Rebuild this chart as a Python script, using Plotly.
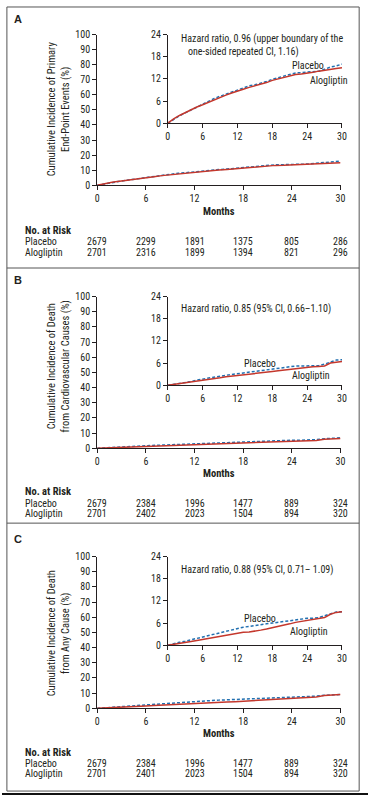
import plotly.graph_objects as go

W, H = 373, 801

months = list(range(0, 31))

a_placebo = [0, 1.1, 2.0, 2.8, 3.6, 4.4, 5.1, 6.1, 6.7, 7.3, 7.9, 8.5, 9.0, 9.5, 10.1, 10.4,
             10.8, 11.3, 11.9, 12.3, 12.6, 13.2, 13.6, 13.7, 13.8, 13.9, 14.1, 14.6, 15.2, 15.5, 16.0]
a_alogliptin = [0, 1.2, 2.1, 2.9, 3.7, 4.4, 5.0, 5.7, 6.4, 7.0, 7.6, 8.2, 8.8, 9.2, 9.7, 10.1,
                10.5, 11.0, 11.6, 12.0, 12.3, 12.8, 13.2, 13.3, 13.5, 13.8, 14.1, 14.4, 14.7, 14.8, 15.0]

b_placebo = [0, 0.2, 0.4, 0.7, 1.0, 1.4, 1.7, 1.9, 2.2, 2.5, 2.7, 2.9, 3.1, 3.4, 3.7, 3.9,
             4.1, 4.2, 4.4, 4.6, 4.8, 5.1, 5.2, 5.2, 5.3, 5.3, 5.3, 5.7, 6.3, 6.8, 6.9]
b_alogliptin = [0, 0.2, 0.4, 0.6, 0.9, 1.2, 1.4, 1.6, 1.8, 2.0, 2.3, 2.5, 2.7, 2.8, 3.0, 3.1,
                3.3, 3.5, 3.7, 3.9, 4.1, 4.4, 4.6, 4.7, 4.9, 5.0, 5.1, 5.2, 6.0, 6.3, 6.4]

c_placebo = [0, 0.5, 0.8, 1.1, 1.5, 1.9, 2.3, 2.6, 2.9, 3.3, 3.7, 4.2, 4.6, 4.9, 5.1, 5.4,
             5.6, 5.8, 6.0, 6.2, 6.4, 6.7, 6.9, 7.2, 7.3, 7.3, 7.5, 8.0, 8.6, 9.0, 9.1]
c_alogliptin = [0, 0.2, 0.4, 0.7, 1.0, 1.3, 1.6, 1.9, 2.1, 2.4, 2.7, 3.0, 3.3, 3.5, 3.6, 3.8,
                4.1, 4.4, 4.7, 5.1, 5.4, 5.8, 6.2, 6.5, 6.8, 7.0, 7.3, 7.5, 8.4, 8.9, 9.1]

risk_months = [0, 6, 12, 18, 24, 30]
a_risk_placebo = [2679, 2299, 1891, 1375, 805, 286]
a_risk_alogliptin = [2701, 2316, 1899, 1394, 821, 296]
b_risk_placebo = [2679, 2384, 1996, 1477, 889, 324]
b_risk_alogliptin = [2701, 2402, 2023, 1504, 894, 320]
c_risk_placebo = [2679, 2384, 1996, 1477, 889, 324]
c_risk_alogliptin = [2701, 2401, 2023, 1504, 894, 320]

panel_letters = ["A", "B", "C"]
y_titles = ["Cumulative Incidence of Primary<br>End-Point Events (%)",
            "Cumulative Incidence of Death<br>from Cardiovascular Causes (%)",
            "Cumulative Incidence of Death<br>from Any Cause (%)"]
hr_texts = ["Hazard ratio, 0.96 (upper boundary of the<br>   one-sided repeated CI, 1.16)",
            "Hazard ratio, 0.85 (95% CI, 0.66\u20131.10)",
            "Hazard ratio, 0.88 (95% CI, 0.71\u2013 1.09)"]
group_names = ["Placebo", "Alogliptin"]
x_title = "Months"
risk_title = "No. at Risk"
main_yticks = list(range(0, 101, 10))
inset_yticks = [0, 6, 12, 18, 24]
xticks = [0, 6, 12, 18, 24, 30]

BLUE = "#2270b0"
RED = "#c4372c"
INK = "#231f20"
FONT = "Liberation Sans Narrow, Arial Narrow, Roboto Condensed, Liberation Sans, sans-serif"


def px_x(p):
    return p / W


def px_y(p):
    return 1 - p / H


# panel geometry (pixels)
panels = [
    dict(main_top=29, main_bot=182, inset_top=29, inset_bot=119, letter_y=13,
         ytitle_y=104, months_y=209, risk_y=228, row1_y=239, row2_y=250,
         hr=(180, 40), plc=(293, 60), alo=(312, 76)),
    dict(main_top=295, main_bot=449, inset_top=295, inset_bot=385, letter_y=278,
         ytitle_y=366, months_y=475, risk_y=493, row1_y=505, row2_y=515,
         hr=(180, 308), plc=(245, 363), alo=(294, 375)),
    dict(main_top=559, main_bot=713, inset_top=559, inset_bot=649, letter_y=541,
         ytitle_y=637, months_y=739, risk_y=758, row1_y=769, row2_y=779,
         hr=(180, 573), plc=(245, 622), alo=(291, 635)),
]
main_x = (97, 345)
inset_x = (169, 346.5)

series = [(a_placebo, a_alogliptin), (b_placebo, b_alogliptin), (c_placebo, c_alogliptin)]
risks = [(a_risk_placebo, a_risk_alogliptin), (b_risk_placebo, b_risk_alogliptin),
         (c_risk_placebo, c_risk_alogliptin)]

fig = go.Figure()
layout = {}
annotations = []
shapes = []


def axis_common(ticks, rng, domain, anchor):
    return dict(range=rng, domain=domain, anchor=anchor, tickvals=ticks,
                ticks="outside", ticklen=4, tickwidth=1, tickcolor=INK,
                showline=True, linecolor=INK, linewidth=1, showgrid=False,
                zeroline=False, tickfont=dict(family=FONT, size=10, color=INK),
                fixedrange=True)


for i, p in enumerate(panels):
    mx = 2 * i + 1
    ix = 2 * i + 2
    mxn = "x" if mx == 1 else f"x{mx}"
    myn = "y" if mx == 1 else f"y{mx}"
    ixn = f"x{ix}"
    iyn = f"y{ix}"
    mkx = "xaxis" if mx == 1 else f"xaxis{mx}"
    mky = "yaxis" if mx == 1 else f"yaxis{mx}"

    main_dom_y = [px_y(p["main_bot"]), px_y(p["main_top"])]
    inset_dom_y = [px_y(p["inset_bot"]), px_y(p["inset_top"])]

    layout[mkx] = axis_common(xticks, [0, 30], [px_x(main_x[0]), px_x(main_x[1])], myn)
    layout[mky] = axis_common(main_yticks, [0, 100], main_dom_y, mxn)
    layout[f"xaxis{ix}"] = axis_common(xticks, [0, 30], [px_x(inset_x[0]), px_x(inset_x[1])], iyn)
    layout[f"yaxis{ix}"] = axis_common(inset_yticks, [0, 24], inset_dom_y, ixn)

    plc, alo = series[i]
    for xa, ya in [(mxn, myn), (ixn, iyn)]:
        fig.add_trace(go.Scatter(x=months, y=plc, mode="lines", xaxis=xa, yaxis=ya,
                                 line=dict(color=BLUE, width=1.5, dash="3px,2px"),
                                 showlegend=False, hoverinfo="skip"))
        fig.add_trace(go.Scatter(x=months, y=alo, mode="lines", xaxis=xa, yaxis=ya,
                                 line=dict(color=RED, width=1.5),
                                 showlegend=False, hoverinfo="skip"))

    annotations.append(dict(text=f"<b>{panel_letters[i]}</b>", xref="paper", yref="paper",
                            x=px_x(10), y=px_y(p["letter_y"]), xanchor="left", yanchor="middle",
                            showarrow=False, font=dict(family="Liberation Sans, sans-serif", size=11, color=INK)))
    annotations.append(dict(text=y_titles[i], xref="paper", yref="paper",
                            x=px_x(58), y=px_y(p["ytitle_y"]), xanchor="center", yanchor="middle",
                            textangle=-90, showarrow=False,
                            font=dict(family=FONT, size=10.5, color=INK)))
    annotations.append(dict(text=f"<b>{x_title}</b>", xref="paper", yref="paper",
                            x=px_x(221), y=px_y(p["months_y"]), xanchor="center", yanchor="middle",
                            showarrow=False, font=dict(family=FONT, size=10.5, color=INK)))
    annotations.append(dict(text=hr_texts[i], xref="paper", yref="paper",
                            x=px_x(p["hr"][0]), y=px_y(p["hr"][1]), xanchor="left", yanchor="middle",
                            align="left", showarrow=False,
                            font=dict(family=FONT, size=10, color=INK)))
    annotations.append(dict(text=group_names[0], xref="paper", yref="paper",
                            x=px_x(p["plc"][0]), y=px_y(p["plc"][1]), xanchor="left", yanchor="middle",
                            showarrow=False, font=dict(family=FONT, size=10, color=INK)))
    annotations.append(dict(text=group_names[1], xref="paper", yref="paper",
                            x=px_x(p["alo"][0]), y=px_y(p["alo"][1]), xanchor="left", yanchor="middle",
                            showarrow=False, font=dict(family=FONT, size=10, color=INK)))
    annotations.append(dict(text=f"<b>{risk_title}</b>", xref="paper", yref="paper",
                            x=px_x(21), y=px_y(p["risk_y"]), xanchor="left", yanchor="middle",
                            showarrow=False, font=dict(family=FONT, size=10.5, color=INK)))
    for name, row_y, vals in [(group_names[0], p["row1_y"], risks[i][0]),
                              (group_names[1], p["row2_y"], risks[i][1])]:
        annotations.append(dict(text=name, xref="paper", yref="paper",
                                x=px_x(21), y=px_y(row_y), xanchor="left", yanchor="middle",
                                showarrow=False, font=dict(family=FONT, size=10, color=INK)))
        for m, v in zip(risk_months, vals):
            annotations.append(dict(text=str(v), xref=mxn, yref="paper",
                                    x=m, y=px_y(row_y), xanchor="center", yanchor="middle",
                                    showarrow=False, font=dict(family=FONT, size=10, color=INK)))

FRAME = "#555555"
shapes.append(dict(type="rect", xref="paper", yref="paper", x0=px_x(5), x1=px_x(364),
                   y0=px_y(797), y1=px_y(1), line=dict(color=FRAME, width=1)))
for yy in (266, 525):
    shapes.append(dict(type="line", xref="paper", yref="paper", x0=px_x(5), x1=px_x(364),
                       y0=px_y(yy), y1=px_y(yy), line=dict(color=FRAME, width=1)))
shapes.append(dict(type="line", xref="paper", yref="paper", x0=0, x1=1,
                   y0=px_y(800), y1=px_y(800), line=dict(color="#111111", width=2)))

fig.update_layout(width=W, height=H, margin=dict(l=0, r=0, t=0, b=0),
                  paper_bgcolor="white", plot_bgcolor="white",
                  annotations=annotations, shapes=shapes, showlegend=False, **layout)

fig.write_html("out.html", config={"displayModeBar": False},
               post_script="document.body.style.margin='0';document.body.style.overflow='hidden';")
